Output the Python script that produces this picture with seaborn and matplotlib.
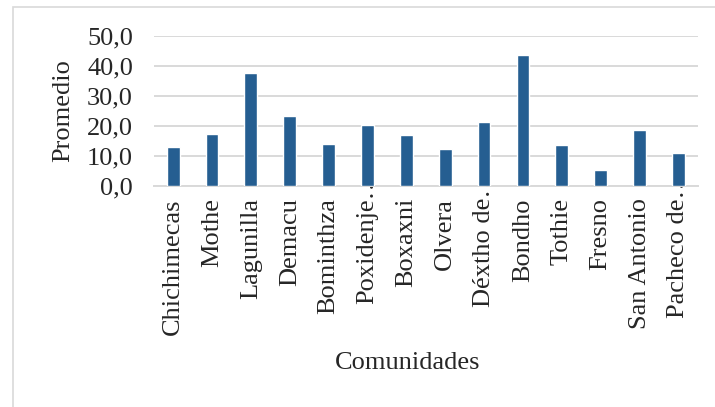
import numpy as np
import pandas as pd
import seaborn as sns
import matplotlib.pyplot as plt
import matplotlib.patches as patches
import matplotlib.transforms as mtransforms
import matplotlib.ticker as ticker

# Data
comunidades = ['Chichimecas', 'Mothe', 'Lagunilla', 'Demacu', 'Bominthza',
               'Poxidenje…', 'Boxaxni', 'Olvera', 'Déxtho de…', 'Bondho',
               'Tothie', 'Fresno', 'San Antonio', 'Pacheco de…']
promedio = [12.9, 17.2, 37.5, 23.1, 13.8, 20.3, 16.8, 12.1, 21.2, 43.5,
            13.6, 5.2, 18.7, 11.0]
y_ticks = [0, 10, 20, 30, 40, 50]

sns.set_style('white')
plt.rcParams['font.family'] = ['Liberation Serif', 'DejaVu Serif']

df = pd.DataFrame({'Comunidades': comunidades, 'Promedio': promedio})

fig = plt.figure(figsize=(7.15, 4.07), dpi=100)
ax = fig.add_axes([0.215, 0.544, 0.761, 0.3675])

sns.barplot(data=df, x='Comunidades', y='Promedio', color='#255E91',
            width=0.33, saturation=1, ax=ax, zorder=3)

ax.set_ylim(0, 50)
ax.set_yticks(y_ticks)
ax.yaxis.set_major_formatter(ticker.FuncFormatter(lambda v, p: f'{v:.1f}'.replace('.', ',')))
ax.grid(axis='y', color='#D9D9D9', linewidth=1.4, zorder=0)
ax.grid(axis='x', visible=False)
for s in ['top', 'right', 'left']:
    ax.spines[s].set_visible(False)
ax.spines['bottom'].set_color('#D9D9D9')
ax.spines['bottom'].set_linewidth(1.4)

ax.tick_params(axis='y', length=0, pad=15, labelsize=19)
ax.tick_params(axis='x', length=0, pad=9, labelsize=19, labelrotation=90)

ax.set_ylabel('Promedio', fontsize=19)
ax.set_xlabel('Comunidades', fontsize=19)
ax.yaxis.set_label_coords(-0.147, 0.5)
ax.xaxis.set_label_coords(0.467, -1.111)

# truncated labels: ellipsis pokes up past the axis line
shift = mtransforms.ScaledTranslation(0, 19 / 72, fig.dpi_scale_trans)
for lbl in ax.get_xticklabels():
    if lbl.get_text().endswith('…'):
        lbl.set_transform(lbl.get_transform() + shift)

# light chart-area frame
frame = patches.Rectangle((13 / 715, -0.05), 1.0, 1.0 - 7 / 407 + 0.05,
                          transform=fig.transFigure, fill=False,
                          edgecolor='#D9D9D9', linewidth=1.2)
fig.patches.append(frame)

fig.savefig('out.png', dpi=100)
